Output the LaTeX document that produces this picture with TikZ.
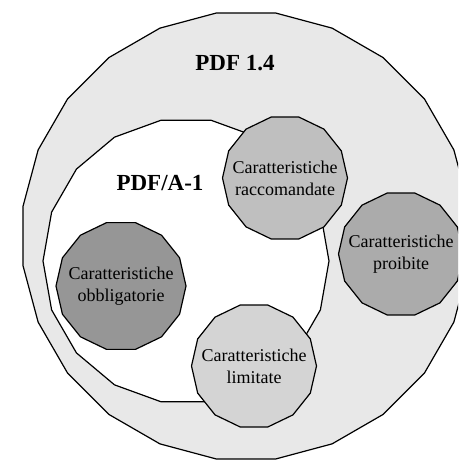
\documentclass[tikz,border=0pt]{standalone}
\usepackage{fontspec}
\setmainfont{Liberation Serif}
\usetikzlibrary{shapes.geometric}

\begin{document}
\begin{tikzpicture}
  [
    x=1pt, y=-1pt,
    set/.style =
      {draw, regular polygon, line width=1.2pt, inner sep=0pt},
    feature/.style =
      {draw, regular polygon, regular polygon sides=14, line width=1.2pt,
       minimum size=125pt, align=center, inner sep=-14pt,
       font=\fontsize{18}{22}\selectfont},
    title/.style =
      {font=\fontsize{23}{26}\selectfont\bfseries}
  ]

\useasboundingbox (0,0) rectangle (458,460);
\clip (0,0) rectangle (458,460);

% insiemi
\node[set, regular polygon sides=24, minimum size=450pt, fill=black!9] (pdf14) at (246,236) {};
\node[set, regular polygon sides=18, minimum size=286pt, fill=white] (pdfa) at (186,261) {};

\node[title] (lbl14) at (235,63) {PDF 1.4};
\node[title] (lbla) at (160,183) {PDF/A-1};

% caratteristiche
\node[feature, fill=black!25] (racc) at (285,178) {Caratteristiche\\raccomandate};
\node[feature, fill=black!33] (proib) at (401,254) {Caratteristiche\\proibite};
\node[feature, fill=black!41, minimum size=130pt] (obbl) at (121,286) {Caratteristiche\\obbligatorie};
\node[feature, fill=black!17] (limit) at (254,366) {Caratteristiche\\limitate};
\end{tikzpicture}
\end{document}
